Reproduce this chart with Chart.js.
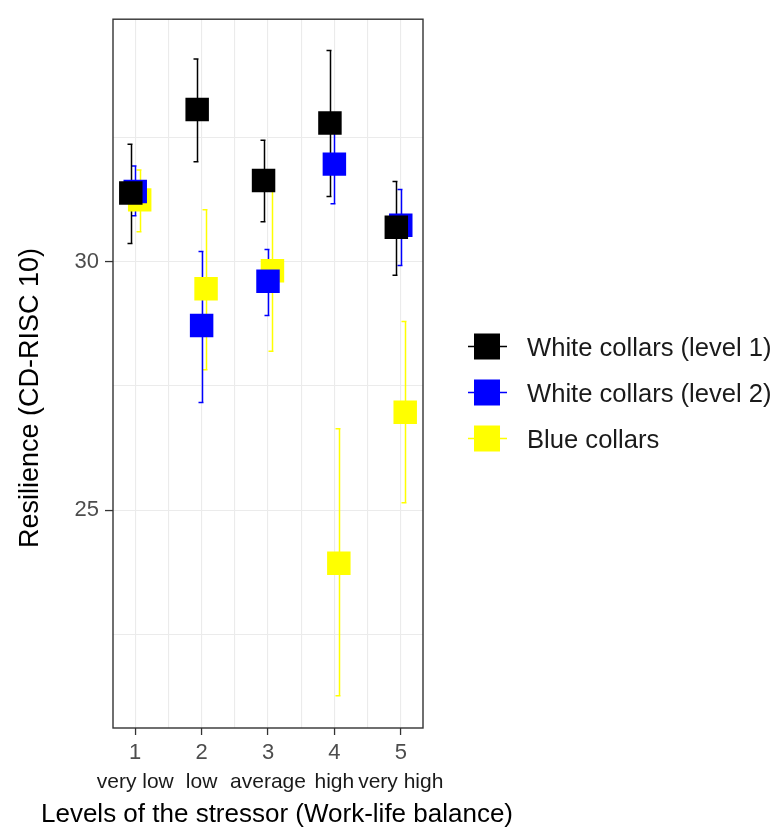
<!DOCTYPE html>
<html>
<head>
<meta charset="utf-8">
<script src="https://cdn.jsdelivr.net/npm/chart.js@4.4.1/dist/chart.umd.min.js"></script>
<style>
  html, body { margin: 0; padding: 0; background: #ffffff; }
  #wrap { width: 779px; height: 833px; position: relative; }
</style>
</head>
<body>
<div id="wrap"><canvas id="c"></canvas></div>
<script>
// ---- data ----
const levels = [1, 2, 3, 4, 5];
const levelNames = ['very low', 'low', 'average', 'high', 'very high'];
const seriesNames = ['White collars (level 1)', 'White collars (level 2)', 'Blue collars'];

const wc1Mean = [31.39, 33.07, 31.64, 32.80, 30.70];
const wc1Low  = [30.37, 32.02, 30.81, 31.32, 29.73];
const wc1High = [32.37, 34.09, 32.45, 34.26, 31.62];

const wc2Mean = [31.42, 28.72, 29.61, 31.97, 30.74];
const wc2Low  = [30.93, 27.17, 28.92, 31.17, 29.93];
const wc2High = [31.93, 30.21, 30.25, 32.77, 31.46];

const bcMean = [31.25, 29.46, 29.82, 23.93, 26.97];
const bcLow  = [30.61, 27.83, 28.20, 21.26, 25.15];
const bcHigh = [31.85, 31.05, 31.44, 26.64, 28.80];

const yTickLabels = [25, 30];
const xTickLabels = ['1', '2', '3', '4', '5'];

const xTitle = 'Levels of the stressor (Work-life balance)';
const yTitle = 'Resilience (CD-RISC 10)';

// ---- styling / layout ----
const FONT = "'Liberation Sans', Arial, sans-serif";
const colors = ['#000000', '#0000ff', '#ffff00'];
const dodge = [-0.067, 0, 0.067];

function makePoints(means, lows, highs, off) {
  return levels.map((lv, i) => ({ x: lv + off, y: means[i], lo: lows[i], hi: highs[i] }));
}

const seriesData = [
  makePoints(wc1Mean, wc1Low, wc1High, dodge[0]),
  makePoints(wc2Mean, wc2Low, wc2High, dodge[1]),
  makePoints(bcMean, bcLow, bcHigh, dodge[2])
];

const datasets = seriesNames.map((name, k) => ({
  label: name,
  data: seriesData[k],
  pointStyle: 'rect',
  pointRadius: 16.6,
  pointHoverRadius: 16.6,
  backgroundColor: colors[k],
  borderColor: colors[k],
  borderWidth: 0,
  showLine: false
}));

const panelPlugin = {
  id: 'panelAndErrors',
  beforeDatasetsDraw(chart) {
    const ctx = chart.ctx;
    const xs = chart.scales.x, ys = chart.scales.y;
    ctx.save();
    for (let k = chart.data.datasets.length - 1; k >= 0; k--) {
      const ds = chart.data.datasets[k];
      ctx.strokeStyle = ds.borderColor;
      ctx.lineWidth = 1.5;
      ds.data.forEach(p => {
        const px = Math.round(xs.getPixelForValue(p.x)) + 0.5;
        const yl = ys.getPixelForValue(p.lo);
        const yh = ys.getPixelForValue(p.hi);
        ctx.beginPath();
        ctx.moveTo(px, yl); ctx.lineTo(px, yh);
        ctx.moveTo(px - 4, yl); ctx.lineTo(px + 1, yl);
        ctx.moveTo(px - 4, yh); ctx.lineTo(px + 1, yh);
        ctx.stroke();
      });
    }
    ctx.restore();
  },
  afterDatasetsDraw(chart) {
    const ctx = chart.ctx;
    const a = chart.chartArea;
    ctx.save();
    ctx.strokeStyle = '#333333';
    ctx.lineWidth = 1.4;
    ctx.strokeRect(a.left, a.top, a.right - a.left, a.bottom - a.top);
    ctx.restore();
  },
  afterDraw(chart) {
    const ctx = chart.ctx;
    // axis titles
    ctx.save();
    ctx.fillStyle = '#000000';
    ctx.font = '26px ' + FONT;
    ctx.textAlign = 'center';
    ctx.textBaseline = 'alphabetic';
    ctx.fillText(xTitle, 277, 822);
    ctx.translate(31, 398);
    ctx.rotate(-Math.PI / 2);
    ctx.font = '27px ' + FONT;
    ctx.textBaseline = 'middle';
    ctx.fillText(yTitle, 0, 0);
    ctx.restore();

    // legend
    ctx.save();
    const keyX = 487, firstY = 346.5, gap = 46, side = 26;
    chart.data.datasets.forEach((ds, k) => {
      const cy = firstY + k * gap;
      ctx.strokeStyle = ds.borderColor;
      ctx.lineWidth = 1.6;
      ctx.beginPath();
      ctx.moveTo(keyX - 19, cy); ctx.lineTo(keyX + 20, cy);
      ctx.stroke();
      ctx.fillStyle = ds.backgroundColor;
      ctx.fillRect(keyX - side / 2, cy - side / 2, side, side);
      ctx.fillStyle = '#1a1a1a';
      ctx.font = '25.6px ' + FONT;
      ctx.textAlign = 'left';
      ctx.textBaseline = 'alphabetic';
      ctx.fillText(ds.label, 527, cy + 9.2);
    });
    ctx.restore();
  }
};

new Chart(document.getElementById('c'), {
  type: 'scatter',
  data: { datasets },
  options: {
    responsive: true,
    maintainAspectRatio: false,
    animation: false,
    events: [],
    layout: { padding: { top: 14, right: 356, left: 0, bottom: 0 } },
    plugins: { legend: { display: false }, tooltip: { enabled: false } },
    scales: {
      x: {
        type: 'linear', position: 'bottom', weight: 0,
        min: 0.665, max: 5.335,
        afterFit(s) { s.height = 40; },
        border: { display: false },
        grid: {
          color: '#ebebeb', lineWidth: 1.1, tickLength: 7, tickWidth: 1.3,
          tickColor: c => (c.tick && Number.isInteger(c.tick.value)) ? '#333333' : 'rgba(0,0,0,0)'
        },
        ticks: {
          stepSize: 0.5, includeBounds: false, autoSkip: false, maxRotation: 0,
          padding: 5, color: '#4d4d4d', font: { family: FONT, size: 22 },
          callback: v => Number.isInteger(v) ? xTickLabels[v - 1] : ''
        }
      },
      x2: {
        type: 'linear', axis: 'x', position: 'bottom', weight: 1,
        min: 0.665, max: 5.335,
        afterFit(s) { s.height = 65; },
        border: { display: false },
        grid: { display: false, drawTicks: false },
        ticks: {
          stepSize: 1, includeBounds: false, autoSkip: false, maxRotation: 0,
          padding: 2, color: '#1a1a1a', font: { family: FONT, size: 21 },
          callback: v => levelNames[v - 1]
        }
      },
      y: {
        type: 'linear', position: 'left',
        min: 20.61, max: 34.89,
        afterFit(s) { s.width = 113; },
        border: { display: false },
        grid: {
          color: '#ebebeb', lineWidth: 1.1, tickLength: 8, tickWidth: 1.3,
          tickColor: c => (c.tick && yTickLabels.includes(c.tick.value)) ? '#333333' : 'rgba(0,0,0,0)'
        },
        ticks: {
          stepSize: 2.5, includeBounds: false, autoSkip: false,
          padding: 6, color: '#4d4d4d', font: { family: FONT, size: 22 },
          callback: v => yTickLabels.includes(v) ? String(v) : ''
        }
      }
    }
  },
  plugins: [panelPlugin]
});
</script>
</body>
</html>
